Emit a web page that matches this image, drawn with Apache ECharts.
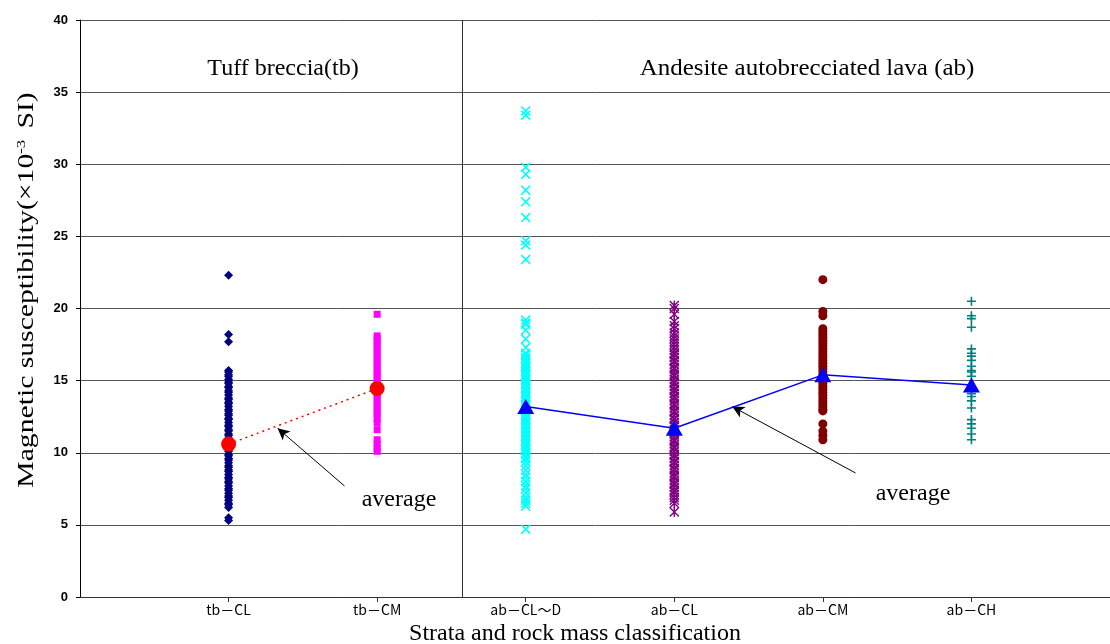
<!DOCTYPE html>
<html>
<head>
	<meta charset="utf-8">
	<title>Magnetic susceptibility</title>
	<script src="https://cdn.jsdelivr.net/npm/echarts@6/dist/echarts.min.js"></script>
	<style>
		body { margin: 0; background: #fff; }
	</style>
</head>
<body>
	<div id="main" style="width: 1110px;height:644px;"></div>
	<script type="text/javascript">
	var myChart = echarts.init(document.getElementById('main'));

	// categories (x positions 1..6 on the axis)
	var categories = ['tb\uFF0DCL', 'tb\uFF0DCM', 'ab\uFF0DCL\u301CD', 'ab\uFF0DCL', 'ab\uFF0DCM', 'ab\uFF0DCH'];

	// measured values per class (x10^-3 SI)
	var tbCL = [22.3, 18.2, 17.7, 15.7, 15.6, 15.4, 15.3, 15.1, 14.9, 14.8, 14.6, 14.5, 14.3, 14.2, 14.0, 13.8, 13.7, 13.5,
		13.4, 13.2, 13.0, 12.9, 12.7, 12.6, 12.4, 12.3, 12.1, 11.9, 11.8, 11.6, 11.5, 11.3, 11.2, 11.0, 10.9, 10.7, 10.5,
		10.4, 10.2, 10.1, 9.9, 9.8, 9.6, 9.5, 9.3, 9.1, 9.0, 8.8, 8.7, 8.5, 8.3, 8.2, 8.0, 7.9, 7.7, 7.5, 7.4, 7.2, 7.0,
		6.9, 6.7, 6.5, 6.4, 6.2, 5.5, 5.3];
	var tbCM = [19.6, 18.1, 17.9, 17.7, 17.4, 17.2, 16.9, 16.7, 16.4, 16.2, 15.9, 15.7, 15.4, 15.2, 14.9, 14.7, 14.4, 14.2,
		13.9, 13.7, 13.4, 13.2, 12.9, 12.7, 12.4, 12.1, 11.6, 10.9, 10.6, 10.3, 10.1];
	var abCLD = [33.7, 33.4, 29.8, 29.3, 28.2, 27.4, 26.3, 24.7, 24.4, 23.4, 19.2, 19.0, 18.9, 18.5, 17.9, 17.3, 16.9, 16.8,
		16.6, 16.5, 16.3, 16.2, 16.0, 15.9, 15.7, 15.6, 15.4, 15.3, 15.1, 15.0, 14.8, 14.7, 14.5, 14.4, 14.2, 14.1, 13.9,
		13.8, 13.6, 13.5, 13.3, 13.2, 13.0, 12.9, 12.7, 12.6, 12.4, 12.3, 12.1, 12.0, 11.8, 11.7, 11.5, 11.4, 11.2, 11.1,
		10.9, 10.8, 10.6, 10.5, 10.3, 10.2, 10.0, 9.9, 9.7, 9.6, 9.4, 9.1, 8.8, 8.5, 8.3, 8.0, 7.7, 7.5, 7.2, 6.9, 6.7,
		6.5, 6.3, 4.7];
	var abCL = [20.2, 20.0, 19.6, 19.1, 18.8, 18.6, 18.3, 18.1, 17.9, 17.7, 17.5, 17.3, 17.1, 16.9, 16.8, 16.6, 16.4, 16.3,
		16.1, 15.9, 15.8, 15.6, 15.4, 15.3, 15.1, 14.9, 14.8, 14.6, 14.4, 14.3, 14.1, 13.9, 13.8, 13.6, 13.4, 13.3, 13.1,
		12.9, 12.8, 12.6, 12.4, 12.3, 12.1, 11.9, 11.8, 11.6, 11.4, 11.3, 11.1, 10.9, 10.8, 10.6, 10.4, 10.3, 10.1, 9.9,
		9.8, 9.6, 9.4, 9.3, 9.1, 8.9, 8.8, 8.6, 8.4, 8.3, 8.1, 7.9, 7.8, 7.6, 7.4, 7.3, 7.1, 6.9, 6.7, 6.5, 5.9];
	var abCM = [22.0, 19.8, 19.5, 18.6, 18.4, 18.2, 18.0, 17.8, 17.6, 17.4, 17.2, 17.0, 16.8, 16.6, 16.4, 16.2, 16.0, 15.8,
		15.6, 15.4, 15.2, 15.0, 14.8, 14.6, 14.4, 14.2, 14.0, 13.8, 13.6, 13.4, 13.2, 13.0, 12.9, 12.0, 11.5, 11.2, 10.9];
	var abCH = [20.5, 19.5, 19.3, 18.7, 17.2, 16.9, 16.7, 16.4, 16.0, 15.7, 15.6, 15.3, 14.1, 13.9, 13.6, 13.1, 12.3, 12.0,
		11.7, 11.3, 10.9];

	// averages
	var tbAvg = [10.6, 14.45];
	var abAvg = [13.2, 11.7, 15.4, 14.7];

	// annotation arrows (data coords) and divider between strata
	var divider = 2.57;
	var arrowTb = [[1.78, 7.7], [1.33, 11.7]];
	var arrowAb = [[5.22, 8.6], [4.39, 13.2]];

	var yTicks = [0, 5, 10, 15, 20, 25, 30, 35, 40];

	function pts(xPos, vals) {
		return vals.map(function(v) { return [xPos, v]; });
	}

	var xPath = 'path://M1.1 0 L5 3.9 L8.9 0 L10 1.1 L6.1 5 L10 8.9 L8.9 10 L5 6.1 L1.1 10 L0 8.9 L3.9 5 L0 1.1 Z';
	var plusPath = 'path://M4.1 0 H5.9 V4.1 H10 V5.9 H5.9 V10 H4.1 V5.9 H0 V4.1 H4.1 Z';
	var starPath = 'path://M1 0 L5 4 L9 0 L10 1 L6 5 L10 9 L9 10 L5 6 L1 10 L0 9 L4 5 L0 1 Z' +
		' M4.3 0 H5.7 V10 H4.3 Z';

	var serif = '"Liberation Serif", "Times New Roman", serif';

	option = {
		animation: false,
		grid: {
			left: 80,
			top: 20,
			width: 1040,
			height: 577,
			outerBoundsMode: 'none'
		},
		xAxis: {
			type: 'value',
			min: 0,
			max: 7,
			interval: 1,
			name: 'Strata and rock mass classification',
			nameLocation: 'middle',
			nameGap: 25,
			nameTextStyle: {
				fontFamily: serif,
				fontSize: 24,
				color: '#000',
				padding: [0, 50, 0, 0]
			},
			axisLine: { lineStyle: { color: '#333', width: 1 } },
			axisTick: {
				show: true,
				length: 5,
				lineStyle: { color: '#333' },
				customValues: [1, 2, 3, 4, 5, 6]
			},
			axisLabel: {
				fontFamily: '"Noto Sans CJK JP", sans-serif',
				fontSize: 14,
				color: '#000',
				margin: 6,
				customValues: [1, 2, 3, 4, 5, 6],
				formatter: function(v) { return categories[v - 1] || ''; }
			},
			splitLine: { show: false }
		},
		yAxis: {
			type: 'value',
			min: 0,
			max: 40,
			interval: 5,
			axisLine: { show: true, lineStyle: { color: '#000', width: 1 } },
			axisTick: { show: true, length: 4, lineStyle: { color: '#000' } },
			axisLabel: {
				fontFamily: 'Arial, "Liberation Sans", sans-serif',
				fontWeight: 'bold',
				fontSize: 13,
				color: '#000',
				margin: 12,
				formatter: function(v) { return yTicks.indexOf(v) >= 0 ? String(v) : ''; }
			},
			splitLine: { show: true, lineStyle: { color: '#555', width: 1 } }
		},
		graphic: [
			{
				type: 'text', x: 27, y: 290, rotation: Math.PI / 2, scaleX: 1.29,
				style: {
					text: '{t|Magnetic susceptibility(\u00D710}{s|-3}{t| SI)}',
					rich: {
						t: { fontFamily: serif, fontSize: 23, fill: '#000' },
						s: { fontFamily: serif, fontSize: 13, fill: '#000', padding: [0, 3, 11, 0] }
					},
					align: 'center', verticalAlign: 'middle'
				}
			},
			{ type: 'text', x: 283, y: 69, style: { text: 'Tuff breccia(tb)', font: '24px ' + serif, fill: '#000', align: 'center', verticalAlign: 'middle' } },
			{ type: 'text', x: 807, y: 69, scaleX: 1.04, style: { text: 'Andesite autobrecciated lava (ab)', font: '24px ' + serif, fill: '#000', align: 'center', verticalAlign: 'middle' } },
			{ type: 'text', x: 399, y: 500, style: { text: 'average', font: '24px ' + serif, fill: '#000', align: 'center', verticalAlign: 'middle' } },
			{ type: 'text', x: 913, y: 494, style: { text: 'average', font: '24px ' + serif, fill: '#000', align: 'center', verticalAlign: 'middle' } }
		],
		series: [
			{
				name: 'tb-CL', type: 'scatter', data: pts(1, tbCL),
				symbol: 'diamond', symbolSize: 9,
				itemStyle: { color: '#000080', opacity: 1 },
				markLine: {
					silent: true,
					symbol: ['none', 'none'],
					label: { show: false },
					lineStyle: { color: '#333', width: 1, type: 'solid' },
					data: [{ xAxis: divider }]
				}
			},
			{
				name: 'tb-CM', type: 'scatter', data: pts(2, tbCM),
				symbol: 'rect', symbolSize: 7,
				itemStyle: { color: '#FF00FF', opacity: 1 }
			},
			{
				name: 'ab-CL~D', type: 'scatter', data: pts(3, abCLD),
				symbol: xPath, symbolSize: 10,
				itemStyle: { color: '#00FFFF', opacity: 1 }
			},
			{
				name: 'ab-CL', type: 'scatter', data: pts(4, abCL),
				symbol: starPath, symbolSize: 10,
				itemStyle: { color: '#800080', opacity: 1 }
			},
			{
				name: 'ab-CM', type: 'scatter', data: pts(5, abCM),
				symbol: 'circle', symbolSize: 9,
				itemStyle: { color: '#800000', opacity: 1 }
			},
			{
				name: 'ab-CH', type: 'scatter', data: pts(6, abCH),
				symbol: plusPath, symbolSize: 9,
				itemStyle: { color: '#008080', opacity: 1 }
			},
			{
				name: 'tb average', type: 'line', data: tbAvg.map(function(v, i) { return [i + 1, v]; }),
				symbol: 'circle', symbolSize: 15,
				lineStyle: { color: '#FF0000', width: 1.5, type: [2, 4] },
				itemStyle: { color: '#FF0000' },
				z: 5,
				markLine: {
					silent: true,
					symbol: ['none', 'arrow'],
					symbolSize: [9, 12],
					label: { show: false },
					lineStyle: { color: '#000', width: 1, type: 'solid' },
					data: [[{ coord: arrowTb[0] }, { coord: arrowTb[1] }]]
				}
			},
			{
				name: 'ab average', type: 'line', data: abAvg.map(function(v, i) { return [i + 3, v]; }),
				symbol: 'triangle', symbolSize: [17, 15],
				lineStyle: { color: '#0000FF', width: 1.5 },
				itemStyle: { color: '#0000FF' },
				z: 5,
				markLine: {
					silent: true,
					symbol: ['none', 'arrow'],
					symbolSize: [9, 12],
					label: { show: false },
					lineStyle: { color: '#000', width: 1, type: 'solid' },
					data: [[{ coord: arrowAb[0] }, { coord: arrowAb[1] }]]
				}
			}
		]
	};

	myChart.setOption(option);
	</script>
</body>
</html>
